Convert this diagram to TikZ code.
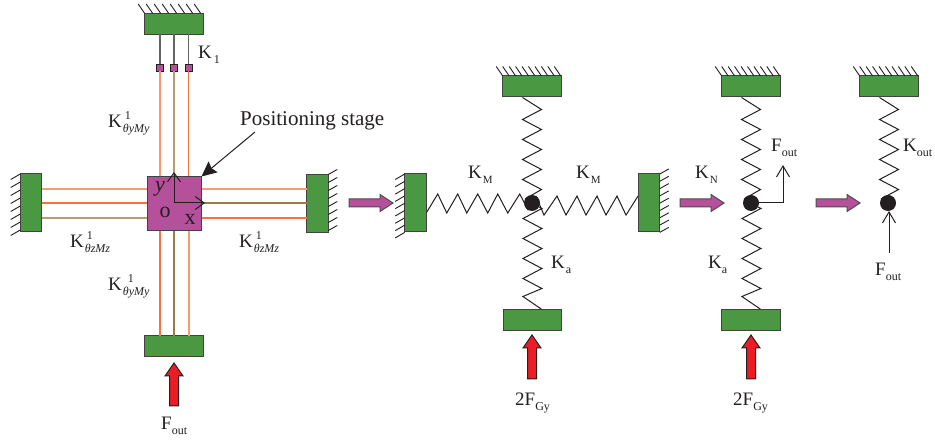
\documentclass[tikz,border=0pt]{standalone}
\usepackage{fontspec}
\setmainfont{Liberation Serif}
\usetikzlibrary{arrows.meta,backgrounds}
\definecolor{gblock}{HTML}{4A9942}
\definecolor{mstage}{HTML}{B5509B}
\definecolor{oa}{HTML}{F4743B}
\definecolor{ob}{HTML}{F79A6C}
\definecolor{tana}{HTML}{B99B73}
\definecolor{brnc}{HTML}{A0794A}
\definecolor{ink}{HTML}{231F20}
\definecolor{arrred}{HTML}{ED1C24}
\newcommand{\bigf}{\fontsize{19}{19}\selectfont}
\newcommand{\smf}{\fontsize{12}{12}\selectfont}
\newcommand{\sbs}[2]{\hspace{#1pt}\raisebox{-5pt}{\smf #2}}
\newcommand{\sps}[2]{\rlap{\hspace{#1pt}\raisebox{8pt}{\smf #2}}}
\newcommand{\hatchtop}[3]{\foreach \i in {1,...,#2} \draw[hatchline] (#1.north west) ++({(\i-1)*#3},0) -- ++(-6.5,-9.5);}
\newcommand{\hatchleft}[3]{\foreach \i in {1,...,#2} \draw[hatchline] (#1.north west) ++(0,{(\i-1)*#3}) -- ++(-9.5,5.5);}
\newcommand{\hatchright}[3]{\foreach \i in {1,...,#2} \draw[hatchline] (#1.north east) ++(0,{(\i-1)*#3}) -- ++(9,-5);}
\newcommand{\zigtop}[2]{\draw[spring] (#1.south) ++(-9.5,0.5) -- ++(19,12) -- ++(-19,10) -- ++(19,10) -- ++(-19,10) -- ++(19,10) -- ++(-19,10) -- ++(19,10) -- ++(-19,10) -- ++(19,10) -- (#2.150);}
\newcommand{\zigbot}[2]{\draw[spring] (#2.330) -- ++(3,1.5) -- ++(-19,10) -- ++(19,10) -- ++(-19,10) -- ++(19,10) -- ++(-19,10) -- ++(19,10) -- ++(-19,10) -- ++(19,10) -- ++(-19,8) -- ++(19,13);}
\newcommand{\redarrow}[2]{\draw[redarr,shift={(#1)}] (0,0) -- (9,13) -- (4.5,13) -- (4.5,#2) -- (-4.5,#2) -- (-4.5,13) -- (-9,13) -- cycle;}
\newcommand{\magarrow}[1]{\draw[magarr,shift={(#1)}] (0,-4) -- (31,-4) -- (31,-8.5) -- (44,0) -- (31,8.5) -- (31,4) -- (0,4) -- cycle;}
\tikzset{
 x=1pt,y=-1pt,
 block/.style={draw=ink!85,fill=gblock,line width=1pt,inner sep=0,outer sep=0,minimum width=#1},
 hblock/.style={block=58.5pt,minimum height=21pt},
 vblock/.style={block=21.5pt,minimum height=58pt},
 hatchline/.style={draw=ink,line width=0.9pt},
 spring/.style={draw=ink,line width=1pt,line join=miter},
 beam/.style={line width=1.2pt},
 sqr/.style={draw=ink,fill=mstage,line width=0.9pt,inner sep=0,minimum size=7pt},
 ball/.style={circle,fill=ink,inner sep=0,minimum size=16pt,outer sep=0},
 lab/.style={inner sep=0,anchor=base west,text=ink,font=\bigf},
 axis/.style={draw=ink,line width=1pt,-{Straight Barb[length=9pt,width=13pt,line width=1pt]}},
 redarr/.style={draw=ink,fill=arrred,line width=1pt,line join=miter},
 magarr/.style={draw=ink!80,fill=mstage,line width=1pt,line join=miter},
}
\begin{document}
\begin{tikzpicture}
\useasboundingbox (0,0) rectangle (935,443);
% stage 1
\node[hblock] (t1) at (174,24) {};
\node[hblock,minimum width=59pt] (b1) at (173.5,346.5) {};
\node[vblock] (l1) at (31,203) {};
\node[vblock] (r1) at (317.5,203.5) {};
\node[draw=ink!85,fill=mstage,line width=1pt,inner sep=0,minimum width=54pt,minimum height=54pt] (st) at (174,204) {};
\hatchtop{t1}{8}{8}
\hatchleft{l1}{8}{8}
\hatchright{r1}{8}{8}
\node[sqr] (s1) at (160,67.5) {};
\node[sqr] (s2) at (174,67.5) {};
\node[sqr] (s3) at (188.5,67.5) {};
\foreach \n in {s1,s2,s3} \draw[ink!70,line width=1.2pt] (t1.south -| \n) -- (\n.north);
\draw[beam,ob] (s1.south) -- (st.north -| s1);
\draw[beam,tana,line width=1.4pt] (s2.south) -- (st.north -| s2);
\draw[beam,oa] (s3.south) -- (st.north -| s3);
\coordinate (lowl) at (160,300); \coordinate (lowm) at (174,300); \coordinate (lowr) at (189,300);
\draw[beam,oa] (st.south -| lowl) -- (b1.north -| lowl);
\draw[beam,brnc] (st.south -| lowm) -- (b1.north -| lowm);
\draw[beam,ob] (st.south -| lowr) -- (b1.north -| lowr);
\coordinate (hu) at (100,189); \coordinate (hm) at (100,203); \coordinate (hd) at (100,218);
\draw[beam,ob] (l1.east |- hu) -- (st.west |- hu);
\draw[beam,oa] (l1.east |- hm) -- (st.west |- hm);
\draw[beam,tana] (l1.east |- hd) -- (st.west |- hd);
\draw[beam,ob] (st.east |- hu) -- (r1.west |- hu);
\draw[beam,brnc] (st.east |- hm) -- (r1.west |- hm);
\draw[beam,oa] (st.east |- hd) -- (r1.west |- hd);
\coordinate (org) at (174,203); \coordinate (ya) at (174,172); \coordinate (xa) at (205,203);
\draw[axis] (org) -- (ya);
\draw[axis] (org) -- (xa);
\node[lab,anchor=center,font=\fontsize{22}{22}\selectfont\itshape] (ylab) at (160,189) {y};
\node[lab,anchor=center,font=\fontsize{22}{22}\selectfont] (olab) at (165,212) {o};
\node[lab,anchor=center,font=\fontsize{22}{22}\selectfont] (xlab) at (190,219) {x};
\node[lab,font=\fontsize{21}{21}\selectfont] (pos) at (240,126) {Positioning stage};
\coordinate (pstart) at (255,132);
\draw[draw=ink,line width=1pt,-{Stealth[length=15pt,width=14pt,inset=2pt]}] (pstart) -- (st.north east);
\node[lab] (k1) at (198,59) {K\sbs{2}{1}};
\node[lab] (ky1) at (108,128) {K\sps{3}{1}\sbs{1}{\textit{θyMy}}};
\node[lab] (ky2) at (108,291) {K\sps{6}{1}\sbs{1}{\textit{θyMy}}};
\node[lab] (kz1) at (70,248) {K\sps{3}{1}\sbs{1}{\textit{θzMz}}};
\node[lab] (kz2) at (239,248) {K\sps{3}{1}\sbs{1}{\textit{θzMz}}};
\node[lab] (f1) at (161,430) {F\sbs{0}{out}};
\redarrow{174,363}{43}
\magarrow{349,203}
% stage 2
\node[hblock] (t2) at (532,86.5) {};
\node[hblock] (b2) at (532.5,320.5) {};
\node[vblock] (l2) at (415.5,203) {};
\node[vblock] (r2) at (649,203) {};
\node[ball] (c2) at (532,203) {};
\hatchtop{t2}{10}{6.45}
\hatchleft{l2}{9}{7.3}
\hatchright{r2}{9}{7.3}
\begin{scope}[on background layer]
\zigtop{t2}{c2}
\zigbot{b2}{c2}
\draw[spring] (l2.east) ++(0,10) -- ++(11.5,-19) -- ++(9,19) -- ++(11,-19) -- ++(9,19) -- ++(11,-19) -- ++(10,19) -- ++(10,-19) -- ++(10,19) -- ++(12,-19) -- (c2.240);
\draw[spring] (c2.60) -- ++(8,19) -- ++(13,-19) -- ++(9,19) -- ++(11,-19) -- ++(9,19) -- ++(11,-19) -- ++(9,19) -- ++(11,-19) -- ++(9,19) -- ++(12,-19);
\end{scope}
\node[lab] (km1) at (468,179) {K\sbs{1}{\fontsize{11}{11}\selectfont M}};
\node[lab] (km2) at (576,179) {K\sbs{1}{\fontsize{11}{11}\selectfont M}};
\node[lab] (ka1) at (551,269) {K\sbs{1}{a}};
\redarrow{532,335}{44}
\node[lab] (f2) at (515,406) {2F\sbs{0}{Gy}};
\node[lab] (kn) at (695,179) {K\sbs{1}{\fontsize{11}{11}\selectfont N}};
\magarrow{680,203}
% stage 3
\node[hblock] (t3) at (751,86.5) {};
\node[hblock] (b3) at (751,320.5) {};
\node[ball] (c3) at (751,203) {};
\hatchtop{t3}{10}{6.45}
\begin{scope}[on background layer]
\zigtop{t3}{c3}
\zigbot{b3}{c3}
\end{scope}
\coordinate (fo) at (783,165);
\draw[draw=ink,line width=1pt,-{Straight Barb[length=11pt,width=13pt,line width=1pt]}] (c3.center) -| (fo);
\node[lab] (ka2) at (708,269) {K\sbs{0}{a}};
\redarrow{751,335}{44}
\node[lab] (f3) at (733,406) {2F\sbs{0}{Gy}};
\node[lab] (f4) at (771,152) {F\sbs{0}{out}};
\magarrow{816,203}
% stage 4
\node[hblock] (t4) at (889,86.5) {};
\node[ball] (c4) at (888,203) {};
\hatchtop{t4}{10}{6.45}
\begin{scope}[on background layer]
\zigtop{t4}{c4}
\end{scope}
\coordinate (f5s) at (889,253);
\draw[draw=ink,line width=1pt,-{Straight Barb[length=11pt,width=13pt,line width=1pt]}] (f5s) -- (c4.south -| f5s);
\node[lab] (kout) at (903,152) {K\sbs{0}{out}};
\node[lab] (f5) at (875,276) {F\sbs{0}{out}};
\end{tikzpicture}
\end{document}
